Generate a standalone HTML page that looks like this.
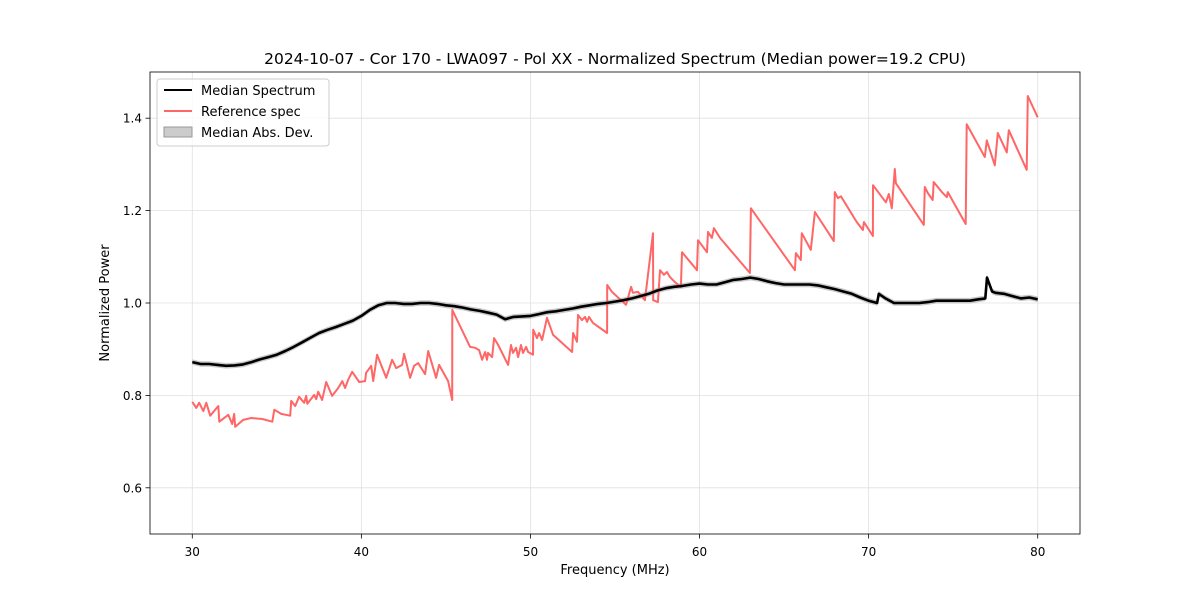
<!DOCTYPE html>
<html><head><meta charset="utf-8"><style>
body{margin:0;background:#fff;font-family:"Liberation Sans","DejaVu Sans",sans-serif}
svg text{font-family:"DejaVu Sans","Liberation Sans",sans-serif;fill:#000}
</style></head><body>
<svg id="chart" width="1200" height="600" xmlns="http://www.w3.org/2000/svg">
<rect width="1200" height="600" fill="#fff"/>
<g id="grid"></g><g id="series"></g><g id="axes"></g>
<text x="615" y="64" font-size="15.5" text-anchor="middle">2024-10-07 - Cor 170 - LWA097 - Pol XX - Normalized Spectrum (Median power=19.2 CPU)</text>
<text x="615" y="574" font-size="13" text-anchor="middle">Frequency (MHz)</text>
<text transform="translate(109,303) rotate(-90)" font-size="13" text-anchor="middle">Normalized Power</text>
<g>
<rect x="157" y="79" width="172" height="67" rx="3" fill="#fff" fill-opacity="0.8" stroke="#ccc"/>
<g><line x1="164" y1="90" x2="192" y2="90" stroke="#000" stroke-width="2"/><text x="201" y="95" font-size="13">Median Spectrum</text></g>
<g><line x1="164" y1="111" x2="192" y2="111" stroke="#ff6666" stroke-width="2"/><text x="201" y="116" font-size="13">Reference spec</text></g>
<g><rect x="164" y="127" width="28" height="10" fill="#ccc" stroke="#999"/><text x="201" y="137" font-size="13">Median Abs. Dev.</text></g>
</g>
</svg>
<script>
const xTicks=[30,40,50,60,70,80];
const yTicks=[0.6,0.8,1.0,1.2,1.4];
const refFreq=[30.00,30.24,30.41,30.65,30.83,31.06,31.54,31.60,32.13,32.36,32.48,32.54,33.01,33.49,34.14,34.73,34.85,35.26,35.79,35.85,36.09,36.32,36.62,36.74,36.80,37.21,37.33,37.45,37.68,37.92,38.27,38.63,38.87,39.04,39.22,39.46,39.87,40.22,40.28,40.58,40.70,40.93,41.47,41.82,42.06,42.41,42.53,42.88,43.12,43.36,43.77,43.95,44.42,44.60,45.13,45.37,45.38,46.43,46.73,46.96,47.14,47.32,47.43,47.49,47.73,47.85,48.09,48.68,48.85,48.97,49.15,49.27,49.44,49.56,49.74,49.86,50.15,50.16,50.39,50.51,50.69,50.98,51.34,52.46,52.52,52.75,52.81,53.05,53.23,53.35,53.46,53.70,54.53,54.54,54.82,55.65,55.95,56.06,56.36,56.77,57.25,57.26,57.54,57.66,57.90,58.07,58.25,58.55,58.90,58.96,59.85,59.91,60.44,60.50,60.73,60.85,61.21,62.98,63.04,65.64,65.70,65.99,66.05,66.58,66.82,67.94,68.00,68.18,68.36,69.30,69.66,69.72,70.25,70.26,71.02,71.19,71.37,71.55,71.61,73.26,73.32,73.50,73.79,73.85,74.33,74.62,74.68,75.74,75.80,76.87,76.99,77.46,77.64,78.17,78.29,79.35,79.41,80.00];
const refPower=[0.786,0.773,0.784,0.766,0.784,0.756,0.777,0.743,0.758,0.738,0.760,0.732,0.747,0.751,0.749,0.743,0.769,0.760,0.756,0.788,0.777,0.797,0.784,0.799,0.782,0.801,0.792,0.808,0.790,0.829,0.799,0.816,0.831,0.816,0.834,0.851,0.829,0.831,0.849,0.864,0.831,0.888,0.838,0.877,0.859,0.866,0.890,0.838,0.864,0.870,0.846,0.896,0.838,0.866,0.831,0.790,0.985,0.905,0.903,0.898,0.877,0.894,0.877,0.892,0.883,0.924,0.909,0.866,0.909,0.892,0.903,0.883,0.909,0.892,0.905,0.894,0.888,0.942,0.924,0.935,0.920,0.968,0.931,0.894,0.935,0.916,0.974,0.963,0.970,0.959,0.970,0.957,0.935,1.039,1.024,0.996,1.035,1.022,1.024,1.006,1.151,1.006,1.002,1.071,1.061,1.067,1.056,1.045,1.035,1.110,1.071,1.136,1.110,1.154,1.141,1.162,1.141,1.065,1.205,1.071,1.108,1.093,1.151,1.115,1.197,1.134,1.240,1.227,1.231,1.175,1.158,1.175,1.145,1.255,1.218,1.236,1.205,1.290,1.259,1.169,1.251,1.238,1.223,1.262,1.240,1.229,1.240,1.171,1.387,1.316,1.352,1.298,1.368,1.326,1.374,1.288,1.448,1.402];
const medFreq=[30,30.5,31,31.5,32,32.5,33,33.5,34,34.5,35,35.5,36,36.5,37,37.5,38,38.5,39,39.5,40,40.5,41,41.5,42,42.5,43,43.5,44,44.5,45,45.5,46,46.5,47,47.5,48,48.5,49,49.5,50,50.5,51,51.5,52,52.5,53,53.5,54,54.5,55,55.5,56,56.5,57,57.5,58,58.5,59,59.5,60,60.5,61,61.5,62,62.5,63,63.5,64,64.5,65,65.5,66,66.5,67,67.5,68,68.5,69,69.5,70,70.5,70.6,71,71.5,72,72.5,73,73.5,74,74.5,75,75.5,76,76.5,76.9,77.0,77.3,77.5,78,78.5,79,79.5,80];
const medPower=[0.872,0.868,0.868,0.866,0.864,0.865,0.867,0.872,0.878,0.883,0.888,0.896,0.905,0.915,0.925,0.935,0.942,0.948,0.955,0.962,0.972,0.985,0.995,1.000,1.000,0.998,0.998,1.000,1.000,0.998,0.995,0.993,0.990,0.986,0.983,0.979,0.975,0.965,0.970,0.971,0.972,0.976,0.980,0.982,0.985,0.988,0.992,0.995,0.998,1.000,1.003,1.006,1.010,1.015,1.020,1.027,1.032,1.035,1.037,1.040,1.042,1.040,1.040,1.045,1.050,1.052,1.055,1.052,1.047,1.043,1.040,1.040,1.040,1.040,1.038,1.034,1.030,1.025,1.020,1.012,1.005,1.000,1.020,1.010,1.000,1.000,1.000,1.000,1.002,1.005,1.005,1.005,1.005,1.005,1.008,1.010,1.055,1.025,1.022,1.020,1.015,1.010,1.012,1.008];
const madWidth=0.006;
const NS='http://www.w3.org/2000/svg';
const X=f=>150+(f-27.5)*(930/55);
const Y=v=>534-(v-0.5)*462;
function mk(tag,attrs,parent){const e=document.createElementNS(NS,tag);for(const k in attrs)e.setAttribute(k,attrs[k]);parent.appendChild(e);return e;}
const grid=document.getElementById('grid'),axes=document.getElementById('axes'),series=document.getElementById('series');
xTicks.forEach(t=>{
 const g=mk('line',{x1:X(t),x2:X(t),y1:72,y2:534,stroke:'#e0e0e0','stroke-width':0.8},grid);
 
 
 mk('line',{x1:X(t),x2:X(t),y1:534,y2:538.5,stroke:'#000','stroke-width':0.8},axes);
 const tx=mk('text',{x:X(t),y:556,'font-size':12,'text-anchor':'middle'},axes);tx.textContent=t;
 
 
});
yTicks.forEach(t=>{
 const g=mk('line',{x1:150,x2:1080,y1:Y(t),y2:Y(t),stroke:'#e0e0e0','stroke-width':0.8},grid);
 
 
 mk('line',{x1:145.5,x2:150,y1:Y(t),y2:Y(t),stroke:'#000','stroke-width':0.8},axes);
 const tx=mk('text',{x:142,y:Y(t)+4.5,'font-size':12,'text-anchor':'end'},axes);tx.textContent=t.toFixed(1);
 
 
});
const frame=mk('rect',{x:150,y:72,width:930,height:462,fill:'none',stroke:'#000','stroke-width':0.8},axes);


let band='';medFreq.forEach((f,i)=>band+=(i?'L':'M')+X(f)+','+Y(medPower[i]+madWidth));
for(let i=medFreq.length-1;i>=0;i--)band+='L'+X(medFreq[i])+','+Y(medPower[i]-madWidth);
const b=mk('path',{d:band+'Z',fill:'#bbb','fill-opacity':0.8},series);


let rp='';refFreq.forEach((f,i)=>rp+=(i?'L':'M')+X(f).toFixed(1)+','+Y(refPower[i]).toFixed(1));
const r=mk('path',{d:rp,fill:'none',stroke:'#ff6666','stroke-width':2,'stroke-linejoin':'round'},series);


let mp='';medFreq.forEach((f,i)=>mp+=(i?'L':'M')+X(f).toFixed(1)+','+Y(medPower[i]).toFixed(1));
const m=mk('path',{d:mp,fill:'none',stroke:'#000','stroke-width':2.6,'stroke-linejoin':'round'},series);


</script>
</body></html>
